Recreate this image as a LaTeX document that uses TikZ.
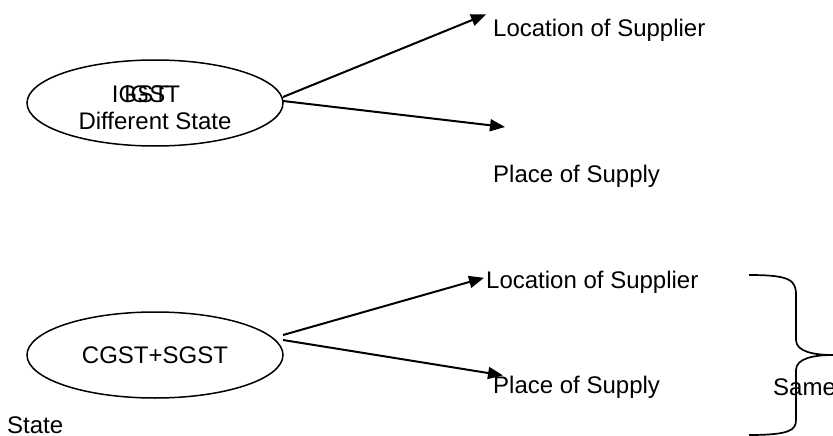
\documentclass[tikz,border=0pt]{standalone}
\usepackage{fontspec}
\setmainfont{Liberation Sans}
\usepackage{tikz}
\usetikzlibrary{positioning}
\usetikzlibrary{arrows.meta,shapes}
\usetikzlibrary{calc}
\tikzstyle{taxnode}=[ellipse,draw,line width=1.5pt,minimum width=256pt,minimum height=86pt,inner sep=0pt,outer sep=0pt,align=center]
\tikzstyle{txt}=[inner sep=0pt,anchor=base west]
\tikzstyle{arrowedge} = [draw,line width=2pt,-{Triangle[length=15pt,width=12pt]}]
\tikzstyle{bracket} = [draw,line width=1.7pt]

\begin{document}
\begin{tikzpicture}[x=1pt,y=-1pt,font=\fontsize{24}{27}\selectfont]

  \useasboundingbox (0,0) rectangle (833,436);

  \node[taxnode] (igst) at (155,103) {\rule{0pt}{27pt}\rlap{IGST}\hspace{12pt}IGST\hspace*{18pt}\\Different State};
  \node[taxnode] (cgst) at (155,355) {CGST+SGST};

  \foreach \x/\y/\name/\words in {493/37/loc1/Location of Supplier, 493/182/place1/Place of Supply, 486/288/loc2/Location of Supplier, 493/393/place2/Place of Supply, 7/433/state/State, 773/395/same/Same}
          \node[txt] (\name) at (\x,\y) {\words};

  \coordinate (p1end) at (505,127);

  % upper pair
  \path[arrowedge] ([yshift=6pt]igst.east) -- ([shift={(-7pt,5pt)}]loc1.north west);
  \path[arrowedge] ([yshift=2pt]igst.east) -- (p1end);

  % lower pair
  \path[arrowedge] ([yshift=20pt]cgst.east) -- ([shift={(-2pt,4pt)}]loc2.west);
  \path[arrowedge] ([yshift=15pt]cgst.east) -- ([xshift=10pt]place2.north west);

  \path[bracket] (749,275) .. controls (790,275) and (796,280) .. (796,295) -- (796,340)
        .. controls (796,352) and (815,355) .. (833,355)
        .. controls (815,355) and (796,358) .. (796,370) -- (796,420)
        .. controls (796,430) and (790,435) .. (749,435);

\end{tikzpicture}
\end{document}
